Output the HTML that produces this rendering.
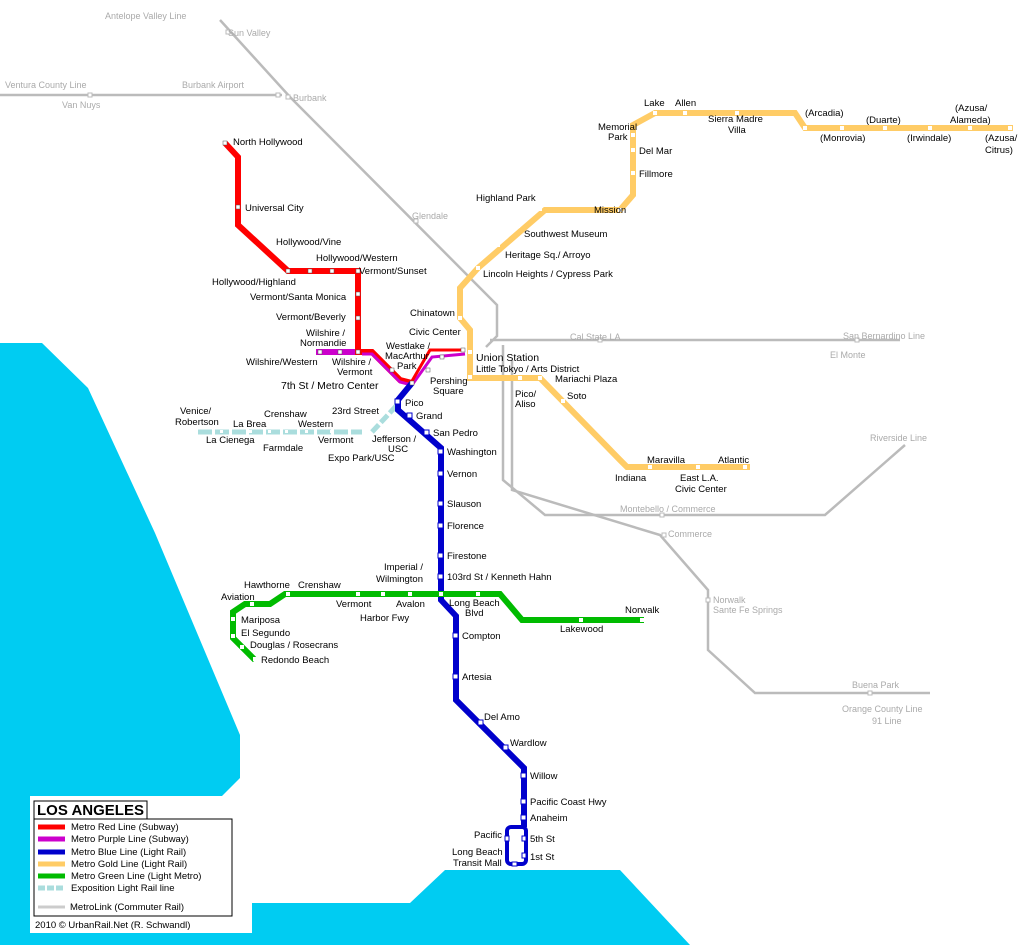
<!DOCTYPE html>
<html><head><meta charset="utf-8"><style>
html,body{margin:0;padding:0;background:#fff;}
svg{display:block;font-family:"Liberation Sans",sans-serif;font-size:9.5px;}
.g{fill:#aaa;font-size:9px}
</style></head><body>
<svg width="1024" height="945" viewBox="0 0 1024 945">
<polygon fill="#00ccf2" points="0,343 42,343 88,388 155,533 240,735 240,778 222,796 30,796 30,933 252,933 252,903 410,903 445,870 620,870 690,945 0,945"/>
<!-- metrolink -->
<g fill="none" stroke="#bbb" stroke-width="2.5">
<polyline points="220,20 290,97 497,305 497,336 486,347"/>
<polyline points="0,95 282,95"/>
<polyline points="490,340 900,340"/>
<polyline points="503,345 503,480 545,515 825,515 905,445"/>
<polyline points="512,360 512,490 660,535 708,590 708,650 755,693 930,693"/>
</g>
<g fill="#fff" stroke="#bbb" stroke-width="1">
<rect x="226" y="30" width="4" height="4"/><rect x="276" y="93" width="4" height="4"/><rect x="286" y="95" width="4" height="4"/><rect x="414" y="219" width="4" height="4"/><rect x="598" y="338" width="4" height="4"/><rect x="855" y="338" width="4" height="4"/><rect x="660" y="513" width="4" height="4"/><rect x="662" y="533" width="4" height="4"/><rect x="706" y="598" width="4" height="4"/><rect x="868" y="691" width="4" height="4"/><rect x="88" y="93" width="4" height="4"/>
</g>
<g class="g">
<text x="105" y="19">Antelope Valley Line</text><text x="228" y="36">Sun Valley</text>
<text x="5" y="88">Ventura County Line</text><text x="182" y="88">Burbank Airport</text>
<text x="62" y="108">Van Nuys</text><text x="293" y="101">Burbank</text><text x="412" y="219">Glendale</text>
<text x="570" y="340">Cal State LA</text><text x="843" y="339">San Bernardino Line</text><text x="830" y="358">El Monte</text>
<text x="870" y="441">Riverside Line</text><text x="620" y="512">Montebello / Commerce</text><text x="668" y="537">Commerce</text>
<text x="713" y="603">Norwalk</text><text x="713" y="613">Sante Fe Springs</text><text x="852" y="688">Buena Park</text>
<text x="842" y="712">Orange County Line</text><text x="872" y="724">91 Line</text>
</g>
<polyline fill="none" stroke="#ffcc66" stroke-width="6" points="1013,128 805,128 795,113 655,113 633,125 633,195 620,210 545,210 478,268 460,288 460,318 470,330 470,378 540,378 620,460 627,467 750,467"/>
<polyline fill="none" stroke="#aadddd" stroke-width="5" stroke-dasharray="14,3" points="198,432 362,432"/>
<polyline fill="none" stroke="#aadddd" stroke-width="5" stroke-dasharray="10,3" points="372,432 398,404"/>
<polyline fill="none" stroke="#cc00cc" stroke-width="6" points="316,352 362,352"/>
<polyline fill="none" stroke="#f00" stroke-width="6" points="225,143 238,157 238,225 288,271 358,271 358,352 372,352 400,380 412,383"/>
<polyline fill="none" stroke="#cc00cc" stroke-width="3" points="362,354 372,354 400,382 412,385 432,357 465,354"/>
<polyline fill="none" stroke="#f00" stroke-width="3" points="412,381 430,350 465,350"/>
<polyline fill="none" stroke="#0000cc" stroke-width="6" points="412,383 398,400 398,410 441,448 441,600 456,616 456,700 524,768 524,827"/>
<rect x="507" y="827" width="19" height="37" rx="4" fill="none" stroke="#0000cc" stroke-width="4"/>
<polyline fill="none" stroke="#00bb00" stroke-width="6" points="255,660 233,638 233,612 245,604 270,604 285,594 500,594 522,620 644,620"/>
<g fill="#fff" stroke="#555" stroke-width="0.5">
<rect x="223" y="141" width="4" height="4"/><rect x="236" y="205" width="4" height="4"/><rect x="286" y="269" width="4" height="4"/><rect x="308" y="269" width="4" height="4"/><rect x="330" y="269" width="4" height="4"/><rect x="356" y="269" width="4" height="4"/><rect x="356" y="292" width="4" height="4"/><rect x="356" y="316" width="4" height="4"/><rect x="356" y="350" width="4" height="4"/><rect x="318" y="350" width="4" height="4"/><rect x="338" y="350" width="4" height="4"/><rect x="390" y="368" width="4" height="4"/><rect x="410" y="381" width="4" height="4"/><rect x="426" y="368" width="4" height="4"/><rect x="440" y="355" width="4" height="4"/><rect x="461" y="348" width="4" height="4"/>
</g>
<g fill="#fff" stroke="#0000cc" stroke-width="1">
<rect x="395" y="399" width="5" height="5"/><rect x="407" y="413" width="5" height="5"/><rect x="424" y="430" width="5" height="5"/><rect x="438" y="449" width="5" height="5"/><rect x="438" y="471" width="5" height="5"/><rect x="438" y="501" width="5" height="5"/><rect x="438" y="523" width="5" height="5"/><rect x="438" y="553" width="5" height="5"/><rect x="438" y="574" width="5" height="5"/><rect x="453" y="633" width="5" height="5"/><rect x="453" y="674" width="5" height="5"/><rect x="478" y="720" width="5" height="5"/><rect x="503" y="745" width="5" height="5"/><rect x="521" y="773" width="5" height="5"/><rect x="521" y="799" width="5" height="5"/><rect x="521" y="815" width="5" height="5"/><rect x="522" y="836" width="4" height="5"/><rect x="522" y="853" width="4" height="5"/><rect x="505" y="836" width="4" height="5"/><rect x="512" y="862" width="5" height="4"/>
</g>
<g fill="#fff">
<rect x="458" y="316" width="4" height="4"/><rect x="476" y="266" width="4" height="4"/><rect x="496" y="243" width="4" height="4"/><rect x="516" y="224" width="4" height="4"/><rect x="538" y="207" width="4" height="4"/><rect x="618" y="208" width="4" height="4"/><rect x="631" y="171" width="4" height="4"/><rect x="631" y="148" width="4" height="4"/><rect x="631" y="133" width="4" height="4"/><rect x="653" y="111" width="4" height="4"/><rect x="683" y="111" width="4" height="4"/><rect x="735" y="111" width="4" height="4"/><rect x="803" y="126" width="4" height="4"/><rect x="840" y="126" width="4" height="4"/><rect x="883" y="126" width="4" height="4"/><rect x="928" y="126" width="4" height="4"/><rect x="968" y="126" width="4" height="4"/><rect x="1008" y="126" width="4" height="4"/><rect x="468" y="350" width="4" height="4"/><rect x="468" y="375" width="4" height="4"/><rect x="518" y="376" width="4" height="4"/><rect x="538" y="376" width="4" height="4"/><rect x="561" y="399" width="4" height="4"/><rect x="648" y="465" width="4" height="4"/><rect x="696" y="465" width="4" height="4"/><rect x="743" y="465" width="4" height="4"/>
<rect x="220" y="430" width="3" height="3"/><rect x="249" y="430" width="3" height="3"/><rect x="268" y="430" width="3" height="3"/><rect x="285" y="430" width="3" height="3"/><rect x="305" y="430" width="3" height="3"/><rect x="330" y="430" width="3" height="3"/>
<rect x="250" y="602" width="4" height="4"/><rect x="286" y="592" width="4" height="4"/><rect x="231" y="617" width="4" height="4"/><rect x="231" y="634" width="4" height="4"/><rect x="240" y="645" width="4" height="4"/><rect x="253" y="657" width="4" height="4"/><rect x="356" y="592" width="4" height="4"/><rect x="381" y="592" width="4" height="4"/><rect x="408" y="592" width="4" height="4"/><rect x="439" y="592" width="4" height="4"/><rect x="476" y="592" width="4" height="4"/><rect x="579" y="618" width="4" height="4"/><rect x="640" y="618" width="4" height="4"/>
</g>
<g fill="#000">
<text x="233" y="145">North Hollywood</text><text x="245" y="211">Universal City</text>
<text x="276" y="245">Hollywood/Vine</text><text x="316" y="261">Hollywood/Western</text>
<text x="212" y="285">Hollywood/Highland</text><text x="359" y="274">Vermont/Sunset</text>
<text x="250" y="300">Vermont/Santa Monica</text><text x="276" y="320">Vermont/Beverly</text>
<text x="306" y="336">Wilshire /</text><text x="300" y="346">Normandie</text>
<text x="246" y="365">Wilshire/Western</text><text x="332" y="365">Wilshire /</text><text x="337" y="375">Vermont</text>
<text x="386" y="349">Westlake /</text><text x="385" y="359">MacArthur</text><text x="397" y="369">Park</text>
<text x="409" y="335">Civic Center</text><text x="430" y="384">Pershing</text><text x="433" y="394">Square</text>
<text x="281" y="389" font-size="10.5">7th St / Metro Center</text>
<text x="405" y="406">Pico</text><text x="416" y="419">Grand</text><text x="433" y="436">San Pedro</text>
<text x="447" y="455">Washington</text><text x="447" y="477">Vernon</text><text x="447" y="507">Slauson</text>
<text x="447" y="529">Florence</text><text x="447" y="559">Firestone</text><text x="447" y="580">103rd St / Kenneth Hahn</text>
<text x="384" y="570">Imperial /</text><text x="376" y="582">Wilmington</text>
<text x="449" y="606">Long Beach</text><text x="465" y="616">Blvd</text>
<text x="462" y="639">Compton</text><text x="462" y="680">Artesia</text><text x="484" y="720">Del Amo</text>
<text x="510" y="746">Wardlow</text><text x="530" y="779">Willow</text><text x="530" y="805">Pacific Coast Hwy</text>
<text x="530" y="821">Anaheim</text><text x="530" y="842">5th St</text><text x="530" y="860">1st St</text>
<text x="474" y="838">Pacific</text><text x="452" y="855">Long Beach</text><text x="453" y="866">Transit Mall</text>
<text x="410" y="316">Chinatown</text><text x="476" y="361" font-size="10.5">Union Station</text>
<text x="476" y="372">Little Tokyo / Arts District</text><text x="515" y="397">Pico/</text><text x="515" y="407">Aliso</text>
<text x="555" y="382">Mariachi Plaza</text><text x="567" y="399">Soto</text>
<text x="483" y="277">Lincoln Heights / Cypress Park</text><text x="505" y="258">Heritage Sq./ Arroyo</text>
<text x="524" y="237">Southwest Museum</text><text x="476" y="201">Highland Park</text><text x="594" y="213">Mission</text>
<text x="639" y="177">Fillmore</text><text x="639" y="154">Del Mar</text><text x="598" y="130">Memorial</text><text x="608" y="140">Park</text>
<text x="644" y="106">Lake</text><text x="675" y="106">Allen</text><text x="708" y="122">Sierra Madre</text><text x="728" y="133">Villa</text>
<text x="805" y="116">(Arcadia)</text><text x="820" y="141">(Monrovia)</text><text x="866" y="123">(Duarte)</text><text x="907" y="141">(Irwindale)</text>
<text x="955" y="111">(Azusa/</text><text x="950" y="123">Alameda)</text><text x="985" y="141">(Azusa/</text><text x="985" y="153">Citrus)</text>
<text x="615" y="481">Indiana</text><text x="647" y="463">Maravilla</text><text x="718" y="463">Atlantic</text>
<text x="680" y="481">East L.A.</text><text x="675" y="492">Civic Center</text>
<text x="180" y="414">Venice/</text><text x="175" y="425">Robertson</text><text x="233" y="427">La Brea</text><text x="264" y="417">Crenshaw</text>
<text x="298" y="427">Western</text><text x="206" y="443">La Cienega</text><text x="263" y="451">Farmdale</text>
<text x="332" y="414">23rd Street</text><text x="318" y="443">Vermont</text><text x="328" y="461">Expo Park/USC</text>
<text x="372" y="442">Jefferson /</text><text x="388" y="452">USC</text>
<text x="244" y="588">Hawthorne</text><text x="298" y="588">Crenshaw</text><text x="221" y="600">Aviation</text>
<text x="241" y="623">Mariposa</text><text x="241" y="636">El Segundo</text><text x="250" y="648">Douglas / Rosecrans</text>
<text x="261" y="663">Redondo Beach</text><text x="336" y="607">Vermont</text><text x="360" y="621">Harbor Fwy</text>
<text x="396" y="607">Avalon</text><text x="560" y="632">Lakewood</text><text x="625" y="613">Norwalk</text>
</g>
<rect x="34" y="801" width="113" height="18" fill="#fff" stroke="#000"/>
<text x="37" y="815" font-size="15" font-weight="bold">LOS ANGELES</text>
<rect x="34" y="819" width="198" height="97" fill="#fff" stroke="#000"/>
<g stroke-width="5"><line x1="38" y1="827" x2="65" y2="827" stroke="#f00"/><line x1="38" y1="839" x2="65" y2="839" stroke="#cc00cc"/><line x1="38" y1="852" x2="65" y2="852" stroke="#0000cc"/><line x1="38" y1="864" x2="65" y2="864" stroke="#ffcc66"/><line x1="38" y1="876" x2="65" y2="876" stroke="#00bb00"/><line x1="38" y1="888" x2="65" y2="888" stroke="#aadddd" stroke-dasharray="7,2"/><line x1="38" y1="907" x2="65" y2="907" stroke="#ccc" stroke-width="3"/></g>
<g font-size="9.5"><text x="71" y="830">Metro Red Line (Subway)</text><text x="71" y="842">Metro Purple Line (Subway)</text><text x="71" y="855">Metro Blue Line (Light Rail)</text><text x="71" y="867">Metro Gold Line (Light Rail)</text><text x="71" y="879">Metro Green Line (Light Metro)</text><text x="71" y="891">Exposition Light Rail line</text><text x="70" y="910">MetroLink (Commuter Rail)</text><text x="35" y="928">2010 © UrbanRail.Net (R. Schwandl)</text></g>
</svg>
</body></html>
